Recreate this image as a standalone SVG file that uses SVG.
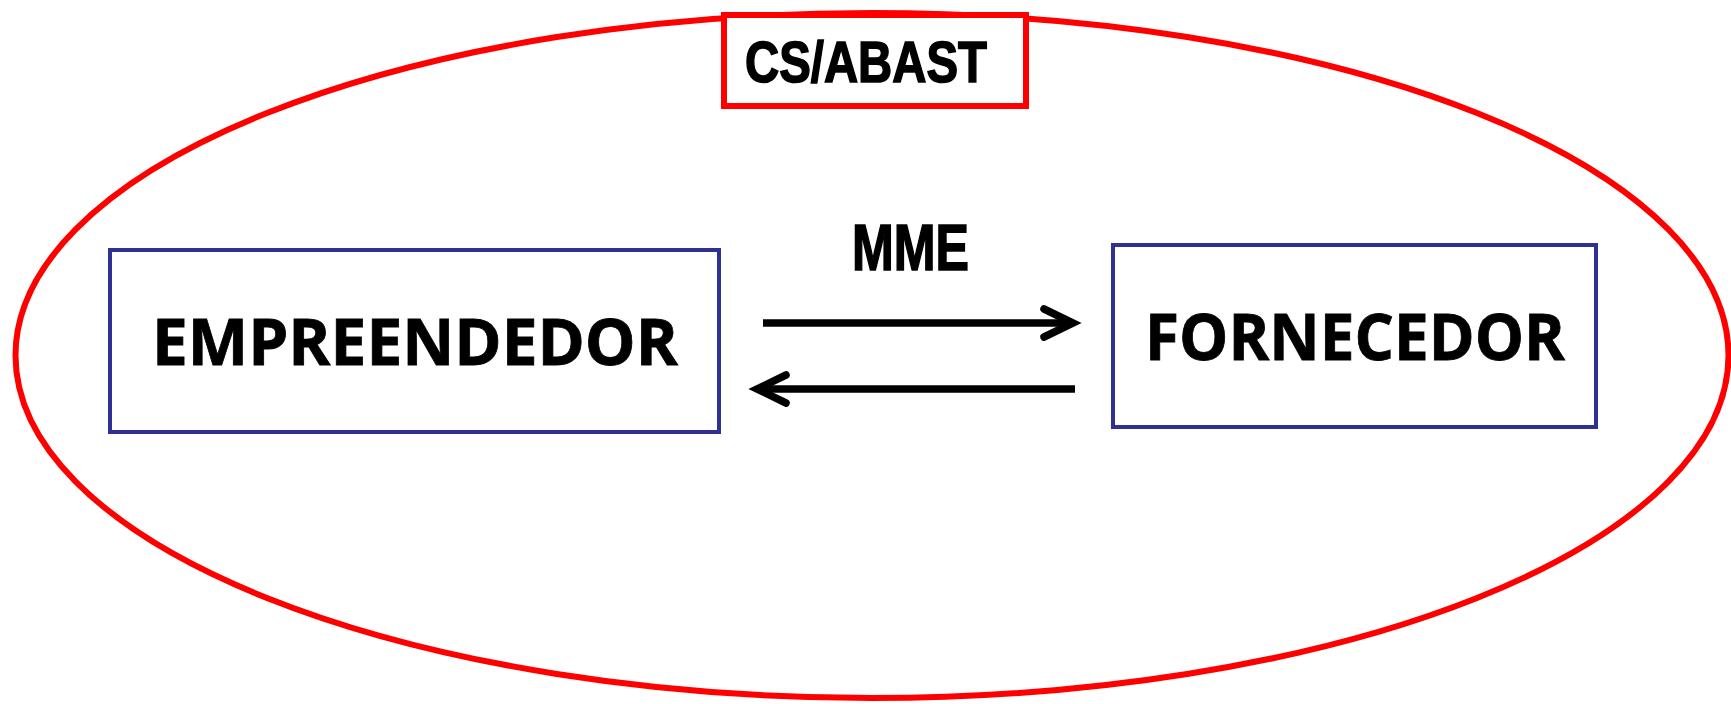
<svg xmlns="http://www.w3.org/2000/svg" width="1731" height="704" viewBox="0 0 1731 704">
<style>
.node{fill:#fff;stroke:#2E3192;stroke-width:4}
.lbl{font-family:"Open Sans","Liberation Sans",sans-serif;font-weight:bold;font-size:65px;fill:#000;stroke:#000;stroke-width:0.8}
.narrow{font-family:"Liberation Sans",Arial,sans-serif;font-weight:bold;fill:#000;stroke:#000;stroke-width:1.6}
.conn{fill:none;stroke:#000;stroke-width:7.5}
</style>
<rect width="1731" height="704" fill="#fff"/>
<g id="boundary">
<ellipse cx="872" cy="355.5" rx="856.5" ry="342.5" fill="none" stroke="#FF0000" stroke-width="6"/>
</g>
<g id="title">
<rect x="724" y="15" width="302" height="91" fill="#fff" stroke="#FF0000" stroke-width="6"/>
<text class="narrow" x="745" y="82" font-size="58" textLength="242" lengthAdjust="spacingAndGlyphs">CS/ABAST</text>
</g>
<g id="empreendedor">
<rect class="node" x="110" y="250" width="609" height="182"/>
<text class="lbl" x="152" y="365" textLength="526" lengthAdjust="spacingAndGlyphs">EMPREENDEDOR</text>
</g>
<g id="fornecedor">
<rect class="node" x="1113" y="245" width="483" height="182"/>
<text class="lbl" x="1145" y="360" textLength="420" lengthAdjust="spacingAndGlyphs">FORNECEDOR</text>
</g>
<g id="connectors">
<text class="narrow" x="852" y="270" font-size="65" textLength="117" lengthAdjust="spacingAndGlyphs">MME</text>
<line class="conn" x1="763" y1="323" x2="1071" y2="323"/>
<polyline class="conn" points="1044,309 1073,323 1044,337" stroke-linecap="round" stroke-linejoin="miter"/>
<line class="conn" x1="1075" y1="389" x2="759" y2="389"/>
<polyline class="conn" points="786,375 757,389 786,403" stroke-linecap="round" stroke-linejoin="miter"/>
</g>
</svg>
